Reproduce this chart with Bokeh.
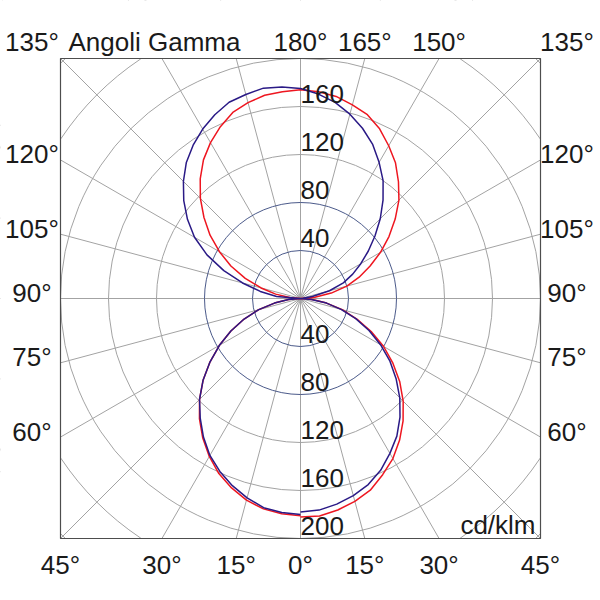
import numpy as np
from bokeh.plotting import figure
from bokeh.models import Label, Range1d
from bokeh.embed import file_html
from bokeh.resources import INLINE

# gamma angles (deg), measured from the downward vertical
gamma = [0, 5, 10, 15, 20, 25, 30, 35, 40, 45, 50, 55, 60, 65, 70, 75, 80, 85, 90,
         95, 100, 105, 110, 115, 120, 125, 130, 135, 140, 145, 150, 155, 160, 165, 170, 175, 180]

# intensities cd/klm, red plane (right half C0, left half C180)
red_right = [182, 182, 179, 175, 170, 162, 154, 144, 133, 121, 108, 94, 80, 65, 50, 36, 22, 10, 0,
             12, 26, 40, 52, 64, 77, 90, 103, 116, 127, 138, 147, 156, 163, 167, 171, 173, 174]
red_left = [181, 180, 178, 174, 168, 161, 152, 142, 131, 119, 106, 92, 78, 64, 50, 36, 22, 10, 0,
            9, 21, 34, 49, 64, 78, 92, 105, 118, 130, 141, 150, 158, 165, 169, 172, 173, 174]

# blue plane (right half C90, left half C270)
blue_right = [178, 177, 174, 170, 165, 158, 149, 140, 129, 117, 104, 91, 77, 63, 49, 35, 22, 9, 0,
              2, 10, 25, 38, 48, 58, 69, 81, 94, 107, 120, 131, 142, 151, 159, 166, 171, 175]
blue_left = [180, 179, 177, 172, 166, 159, 151, 141, 130, 119, 106, 92, 78, 64, 50, 36, 22, 10, 0,
             20, 34, 50, 68, 86, 102, 115, 127, 138, 148, 156, 163, 169, 174, 176, 178, 177, 175]

rings = [40, 80, 120, 160, 200, 240, 280]
ring_labels_up = [40, 80, 120, 160]
ring_labels_down = [40, 80, 120, 160, 200]
spoke_step = 15
bottom_angles = [0, 15, 30, 45]
side_angles = [60, 75, 90, 105, 120]
top_angles = [180, 165, 150]
corner_angle = 135
title_text = "Angoli Gamma"
unit_text = "cd/klm"

RMAX = 200          # polar scale limit (cd/klm) = half side of the box
PX = 1.2            # pixels per cd/klm
W = H = 598
LEFT_PAD, TOP_PAD = 60, 58
FONT = "Liberation Sans"
FS = "26px"
TXT = "#1a1a1a"
GRID = "#a3a3a3"

x0 = -RMAX - LEFT_PAD / PX
x1 = x0 + W / PX
y1 = RMAX + TOP_PAD / PX
y0 = y1 - H / PX

p = figure(width=W, height=H, output_backend="svg", toolbar_location=None,
           x_range=Range1d(x0, x1), y_range=Range1d(y0, y1),
           x_axis_location=None, y_axis_location=None, min_border=0)
p.grid.visible = False
p.outline_line_color = None
p.background_fill_color = "white"
p.border_fill_color = "white"

# spokes
sp = np.deg2rad(np.arange(0, 360, spoke_step))
L = 2.5 * RMAX
p.segment(x0=np.zeros(len(sp)), y0=np.zeros(len(sp)), x1=L * np.sin(sp), y1=L * np.cos(sp),
          line_color=GRID, line_width=1)

# rings
ring_colors = ["#4b5a8a" if r <= 80 else GRID for r in rings]
p.circle(x=[0] * len(rings), y=[0] * len(rings), radius=rings, fill_color=None,
         line_color=ring_colors, line_width=1)

# white mask outside the square box
B = 3 * RMAX
p.quad(left=[-B, RMAX, -B, -B], right=[-RMAX, B, B, B],
       bottom=[-B, -B, RMAX, -B], top=[B, B, B, -RMAX],
       fill_color="white", line_color=None)
# box outline
p.quad(left=[-RMAX], right=[RMAX], bottom=[-RMAX], top=[RMAX],
       fill_color=None, line_color="#4d4d4d", line_width=1.2)

g = np.deg2rad(np.array(gamma, dtype=float))


def plane(right, left):
    r1 = np.array(right, dtype=float)
    r2 = np.array(left, dtype=float)
    x = np.concatenate([r1 * np.sin(g), (-r2 * np.sin(g))[::-1]])
    y = np.concatenate([-r1 * np.cos(g), (-r2 * np.cos(g))[::-1]])
    return x, y


xr, yr = plane(red_right, red_left)
xb, yb = plane(blue_right, blue_left)
p.line(xr, yr, line_color="#ee1620", line_width=1.5)
p.line(xb, yb, line_color="#2a1a86", line_width=1.5)


def lab(text, x, y, xo=0, yo=0, align="center"):
    p.add_layout(Label(x=x, y=y, x_offset=xo, y_offset=yo, text=text, text_align=align,
                       text_baseline="middle", text_font=FONT, text_font_size=FS,
                       text_color=TXT))


# ring values (just above each ring crossing)
for r in ring_labels_up:
    lab(str(r), 0, r, yo=13, align="left")
for r in ring_labels_down:
    lab(str(r), 0, -r, yo=13, align="left")

# bottom row angle labels
for a in bottom_angles:
    xs = RMAX * np.tan(np.deg2rad(a))
    for s in ([1] if a == 0 else [-1, 1]):
        lab(f"{a}°", s * xs, -RMAX, yo=-26)

# side columns
for a in side_angles:
    ys = -RMAX / np.tan(np.deg2rad(a))
    lab(f"{a}°", -RMAX, ys, xo=-28.5, yo=5.5)
    lab(f"{a}°", RMAX, ys, xo=26.5, yo=5.5)

# top row
for a in top_angles:
    xs = RMAX * np.tan(np.deg2rad(180 - a))
    lab(f"{a}°", xs, RMAX, yo=16.5)
lab(f"{corner_angle}°", -RMAX, RMAX, xo=-28.5, yo=16.5)
lab(f"{corner_angle}°", RMAX, RMAX, xo=26.5, yo=16.5)
lab(title_text, -RMAX, RMAX, xo=8, yo=16.5, align="left")

# unit
lab(unit_text, RMAX, -RMAX, xo=-5, yo=14, align="right")

open("out.html", "w").write(file_html(p, INLINE))
